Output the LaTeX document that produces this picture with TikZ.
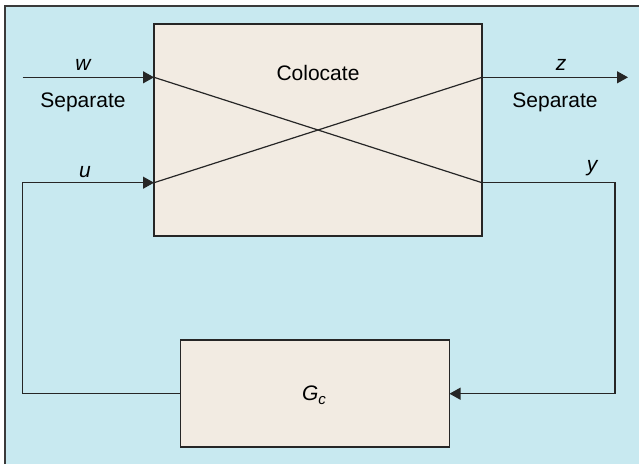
\documentclass[tikz,border=0pt]{standalone}
\usepackage{fontspec}
\setmainfont{Liberation Sans}
\usetikzlibrary{arrows.meta}
\definecolor{bgblue}{HTML}{C8E9F0}
\definecolor{boxfill}{HTML}{F2EBE2}
\definecolor{frameline}{HTML}{3A3A3A}
\begin{document}
\begin{tikzpicture}[x=1pt,y=-1pt,
  font=\fontsize{21}{24}\selectfont,
  blk/.style={draw=black!85, line width=1.2pt, fill=boxfill, inner sep=0pt, outer sep=0pt},
  wire/.style={draw=black!85, line width=1.2pt},
  arr/.style={wire, -{Triangle[length=11pt,width=12pt]}},
  lbl/.style={inner sep=0pt, font=\fontsize{21}{24}\selectfont\itshape},
  txt/.style={inner sep=0pt}]
\useasboundingbox (0,0) rectangle (639,464);
\fill[white] (0,0) rectangle (639,464);
\fill[bgblue] (5,6) rectangle (639,464);
\draw[frameline, line width=2pt] (5,464) -- (5,6) -- (639,6);
% blocks
\node[blk, minimum width=328pt, minimum height=212pt] (P) at (318,130) {};
\node[blk, minimum width=269pt, minimum height=107pt] (K) at (315,393.5) {};
\node[txt] (col) at (318,73) {Colocate};
\node[lbl] (Gc) at (314,395) {G\raisebox{-0.35ex}{\fontsize{15}{16}\selectfont c}};
% coordinates
\coordinate (win) at (22.7,77.3);
\coordinate (Pw1) at (154,77.3);
\coordinate (Pw2) at (154,182.7);
\coordinate (Pe1) at (482,77.3);
\coordinate (Pe2) at (482,182.7);
\coordinate (zout) at (628,77.3);
\coordinate (yr) at (615,182.7);
\coordinate (yb) at (615,393.7);
\coordinate (ul) at (22.4,393.7);
\coordinate (ut) at (22.4,182.7);
% wires
\draw[arr] (win) -- (Pw1);
\draw[arr] (Pe1) -- (zout);
\draw[wire] (Pw1) -- (Pe2);
\draw[wire] (Pw2) -- (Pe1);
\draw[arr] (Pe2) -- (yr) -- (yb) -- (K.east |- yb);
\draw[arr] (K.west |- ul) -- (ul) -- (ut) -- (Pw2);
% labels
\node[lbl] (w) at (83,65) {w};
\node[lbl] (z) at (561,65) {z};
\node[lbl] (u) at (85,172) {u};
\node[lbl] (y) at (592,168) {y};
\node[txt] (s1) at (83,102) {Separate};
\node[txt] (s2) at (555,102) {Separate};
\end{tikzpicture}
\end{document}
